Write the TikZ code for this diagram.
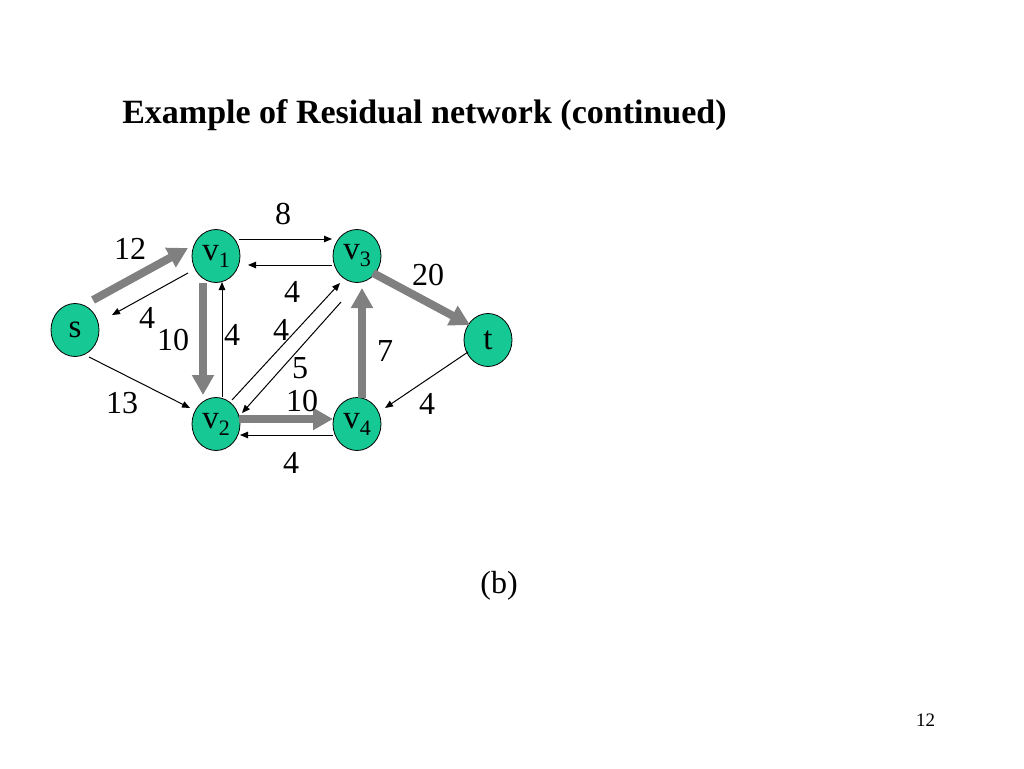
\documentclass[tikz,border=0pt]{standalone}
\usepackage{fontspec}
\setmainfont{Liberation Serif}
\usetikzlibrary{shapes.geometric,arrows.meta,calc}
\definecolor{nodegreen}{RGB}{22,200,148}
\definecolor{flowgray}{RGB}{128,128,128}
\tikzset{
  vert/.style={ellipse,draw=black,line width=0.8pt,fill=nodegreen,minimum width=48pt,minimum height=53pt,inner sep=0pt,font=\fontsize{33}{33}\selectfont},
  flow/.style={draw=flowgray,line width=8pt,-{Triangle[length=20pt,width=21pt]}},
  resid/.style={draw=black,line width=1pt,-{Triangle[length=8pt,width=6.5pt]}},
  lab/.style={inner sep=0pt,font=\fontsize{32}{32}\selectfont},
}
\newcommand{\vsub}[1]{v\raisebox{-7pt}{\fontsize{22}{22}\selectfont #1}}
\begin{document}
\begin{tikzpicture}[x=1pt,y=-1pt]
\useasboundingbox[fill=white] (0,0) rectangle (1024,768);
\node[anchor=base,inner sep=0pt,font=\fontsize{34}{34}\selectfont\bfseries] (title) at (424.5,123) {Example of Residual network (continued)};
\node[vert] (s) at (75,330) {s};
\node[vert] (v1) at (216,256) {\vsub{1}};
\node[vert] (v3) at (357,256) {\vsub{3}};
\node[vert] (t) at (488,340) {t};
\node[vert] (v2) at (216,424) {\vsub{2}};
\node[vert] (v4) at (357,424) {\vsub{4}};
% flows (thick gray)
\draw[flow] ($(s)+(18,-30)$) -- ($(v1)+(-28,-8)$);
\draw[flow] ($(v1)+(-13,27)$) -- ($(v2)+(-13,-29)$);
\draw[flow] ($(v2)+(23,-5)$) -- ($(v4)+(-24,-5)$);
\draw[flow] ($(v4)+(5,-26)$) -- ($(v3)+(5,32)$);
\draw[flow] ($(v3)+(16,17)$) -- ($(t)+(-18,-15)$);
% residual (thin)
\draw[resid] ($(v1)+(-28,17)$) -- ($(s)+(37,-15)$);
\draw[resid] ($(s)+(14,27)$) -- ($(v2)+(-26,-16)$);
\draw[resid] ($(v1)+(23,-17)$) -- ($(v3)+(-25,-17)$);
\draw[resid] ($(v3)+(-25,9)$) -- ($(v1)+(32,9)$);
\draw[resid] ($(v2)+(6,-27)$) -- ($(v1)+(6,26)$);
\draw[resid] ($(v2)+(16,-24)$) -- ($(v3)+(-17,27)$);
\draw[resid] ($(v3)+(-16,46)$) -- ($(v2)+(26,-11)$);
\draw[resid] ($(v4)+(-24,11)$) -- ($(v2)+(24,11)$);
\draw[resid] ($(t)+(-20,12)$) -- ($(v4)+(28,-16)$);
% labels
\node[lab] (l8) at (283,214) {8};
\node[lab] (l12) at (130,249) {12};
\node[lab] (l20) at (428,275) {20};
\node[lab] (l4a) at (147,318) {4};
\node[lab] (l10a) at (173,340) {10};
\node[lab] (l4b) at (232,335) {4};
\node[lab] (l4c) at (292,292) {4};
\node[lab] (l4d) at (281,330) {4};
\node[lab] (l5) at (300,368) {5};
\node[lab] (l7) at (385,351) {7};
\node[lab] (l13) at (122,403) {13};
\node[lab] (l10b) at (302,401) {10};
\node[lab] (l4e) at (427,404) {4};
\node[lab] (l4f) at (291,463) {4};
\node[anchor=base,inner sep=0pt,font=\fontsize{32}{32}\selectfont] (cap) at (499,593) {(b)};
\node[anchor=base,inner sep=0pt,font=\fontsize{19}{19}\selectfont] (pg) at (925.5,726) {12};
\end{tikzpicture}
\end{document}
